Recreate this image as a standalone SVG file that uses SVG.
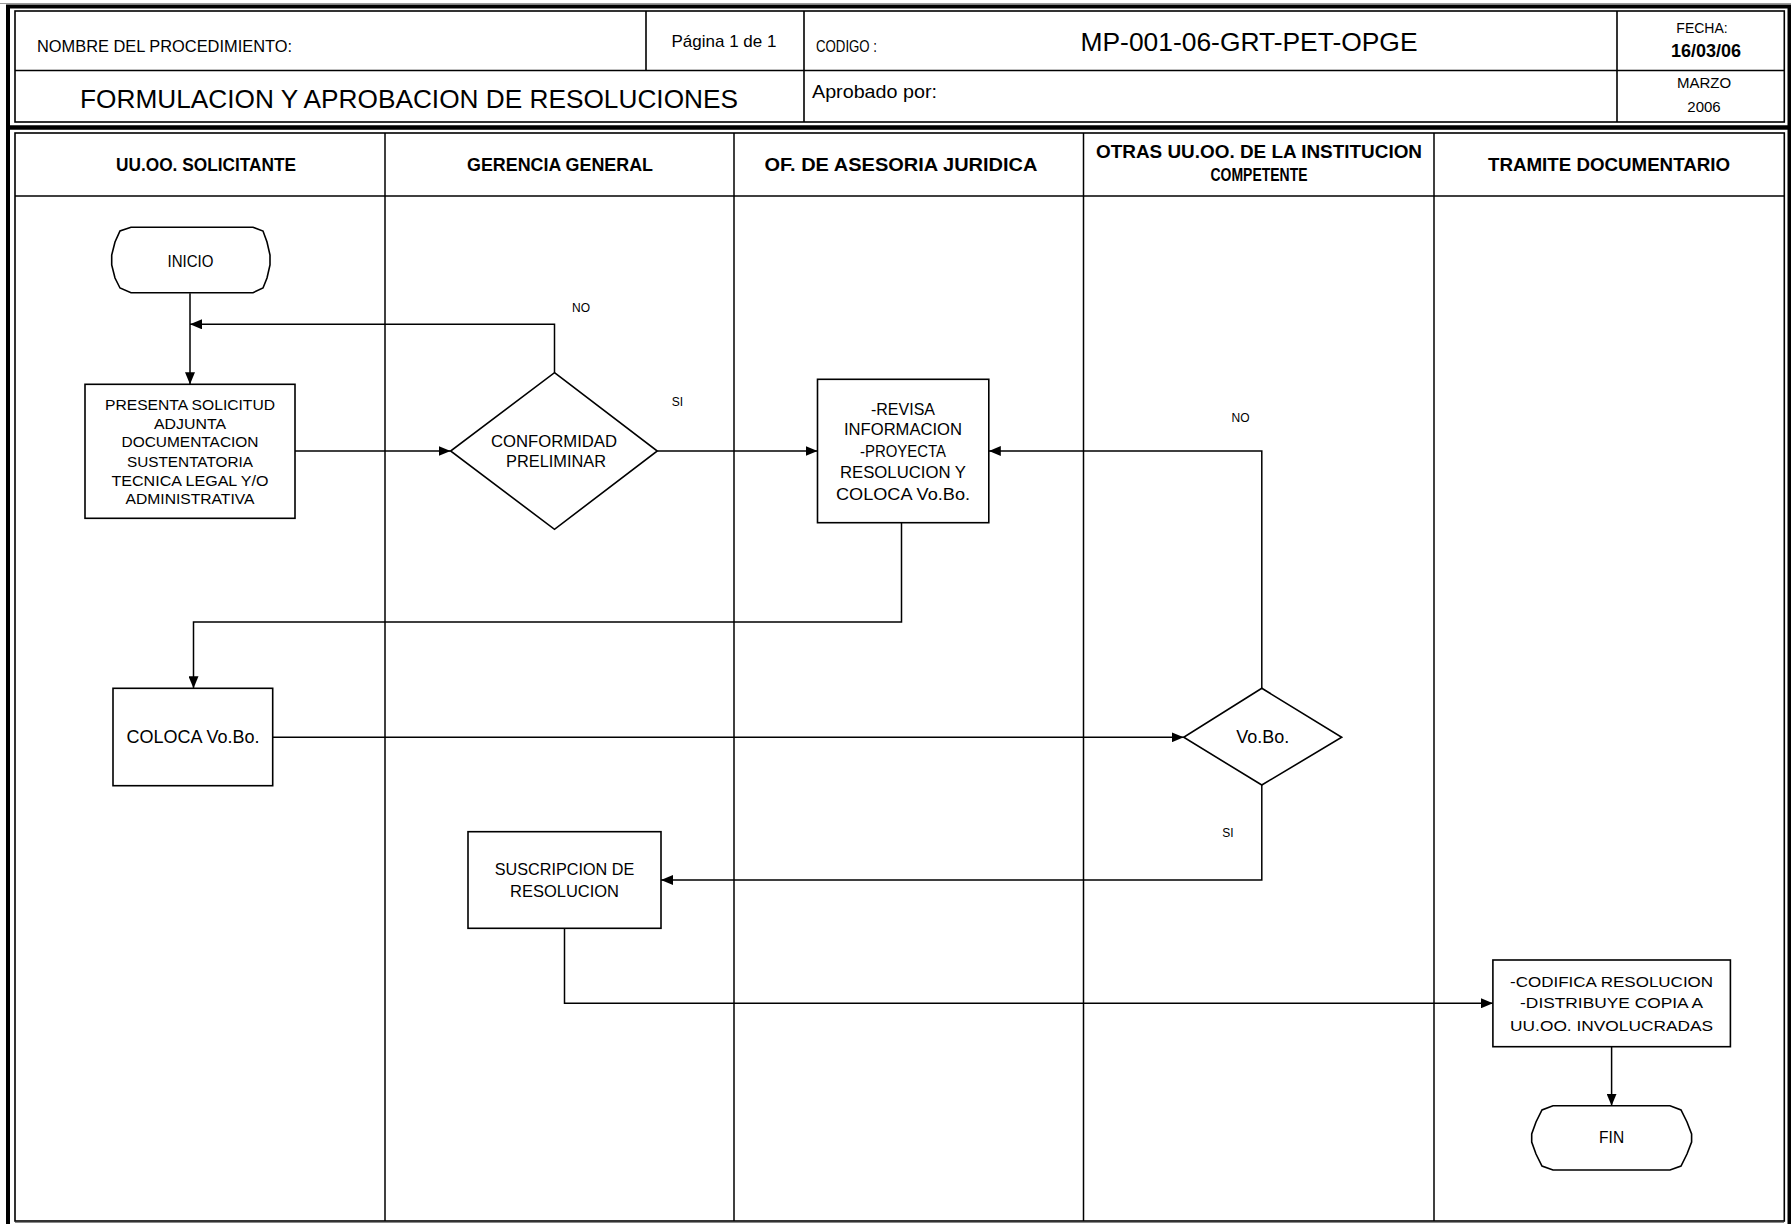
<svg xmlns="http://www.w3.org/2000/svg" width="1791" height="1224" viewBox="0 0 1791 1224">
<style>
  .t{font-family:"Liberation Sans",Arial,sans-serif;fill:#000}
  .b{font-weight:bold}
  .frame{fill:none;stroke:#000;stroke-width:4}
  .thin{fill:none;stroke:#000;stroke-width:1.6}
  .lane{fill:none;stroke:#000;stroke-width:1.5}
  .node{fill:#fff;stroke:#000;stroke-width:1.6}
  .conn{fill:none;stroke:#000;stroke-width:1.5}
  .lbl{font-size:12px;text-anchor:middle}
  .c{text-anchor:middle}
</style>
<defs>
  <marker id="ah" markerUnits="userSpaceOnUse" markerWidth="12" markerHeight="10" refX="12" refY="5" orient="auto">
    <path d="M0,0 L12,5 L0,10 Z" fill="#000"/>
  </marker>
</defs>
<rect width="1791" height="1224" fill="#fff"/>

<!-- outer frame -->
<g id="frame">
  <line x1="0" y1="3.5" x2="1791" y2="3.5" stroke="#999" stroke-width="1"/>
  <path class="frame" d="M8,1226 V6.5 H1789.5 V1226"/>
  <rect class="thin" x="15" y="11" width="1769.3" height="111"/>
  <line x1="8" y1="127.5" x2="1789.5" y2="127.5" stroke="#000" stroke-width="4.5"/>
  <rect class="thin" x="15" y="133" width="1769.3" height="1088"/>
  <line x1="15" y1="1222.5" x2="1784" y2="1222.5" stroke="#888" stroke-width="1"/>
</g>

<!-- header -->
<g id="header">
  <line class="thin" x1="15" y1="70.5" x2="1784.3" y2="70.5"/>
  <line class="thin" x1="646" y1="11" x2="646" y2="70.5"/>
  <line class="thin" x1="804" y1="11" x2="804" y2="122"/>
  <line class="thin" x1="1617" y1="11" x2="1617" y2="122"/>
  <text class="t" x="37" y="51.5" font-size="16" textLength="255" lengthAdjust="spacingAndGlyphs">NOMBRE DEL PROCEDIMIENTO:</text>
  <text class="t c" x="724" y="47" font-size="17">Página 1 de 1</text>
  <text class="t" x="816" y="52" font-size="16" textLength="61" lengthAdjust="spacingAndGlyphs">CODIGO :</text>
  <text class="t c" x="1249" y="51" font-size="25" textLength="337" lengthAdjust="spacingAndGlyphs">MP-001-06-GRT-PET-OPGE</text>
  <text class="t c" x="1702" y="33" font-size="14">FECHA:</text>
  <text class="t c b" x="1706" y="56.5" font-size="18">16/03/06</text>
  <text class="t" x="80" y="107.5" font-size="26" textLength="658" lengthAdjust="spacingAndGlyphs">FORMULACION Y APROBACION DE RESOLUCIONES</text>
  <text class="t" x="812" y="97.5" font-size="17.5" textLength="125" lengthAdjust="spacingAndGlyphs">Aprobado por:</text>
  <text class="t c" x="1704" y="88" font-size="15">MARZO</text>
  <text class="t c" x="1704" y="111.5" font-size="15">2006</text>
</g>

<!-- swimlanes -->
<g id="lanes">
  <line class="thin" x1="15" y1="196" x2="1784.3" y2="196"/>
  <line class="lane" x1="385" y1="133" x2="385" y2="1221"/>
  <line class="lane" x1="734" y1="133" x2="734" y2="1221"/>
  <line class="lane" x1="1083.5" y1="133" x2="1083.5" y2="1221"/>
  <line class="lane" x1="1434" y1="133" x2="1434" y2="1221"/>
  <text class="t b c" x="206" y="170.5" font-size="17.5" textLength="180" lengthAdjust="spacingAndGlyphs">UU.OO. SOLICITANTE</text>
  <text class="t b c" x="560" y="170.5" font-size="17.5" textLength="186" lengthAdjust="spacingAndGlyphs">GERENCIA GENERAL</text>
  <text class="t b c" x="901" y="170.5" font-size="17.5" textLength="273" lengthAdjust="spacingAndGlyphs">OF. DE ASESORIA JURIDICA</text>
  <text class="t b c" x="1259" y="158" font-size="17.5" textLength="326" lengthAdjust="spacingAndGlyphs">OTRAS UU.OO. DE LA INSTITUCION</text>
  <text class="t b c" x="1259" y="181" font-size="17.5" textLength="97" lengthAdjust="spacingAndGlyphs">COMPETENTE</text>
  <text class="t b c" x="1609" y="170.5" font-size="17.5" textLength="242" lengthAdjust="spacingAndGlyphs">TRAMITE DOCUMENTARIO</text>
</g>

<!-- connectors -->
<g id="connectors">
  <path class="conn" d="M190,293.3 V384.3" marker-end="url(#ah)"/>
  <path class="conn" d="M554.5,372.7 V324.3 H190" marker-end="url(#ah)"/>
  <path class="conn" d="M295,451 H450.6" marker-end="url(#ah)"/>
  <path class="conn" d="M657.3,451 H817.5" marker-end="url(#ah)"/>
  <path class="conn" d="M1261.8,688.3 V451 H988.8" marker-end="url(#ah)"/>
  <path class="conn" d="M901.5,522.7 V622 H193.5 V688.3" marker-end="url(#ah)"/>
  <path class="conn" d="M272.7,737.3 H1183.7" marker-end="url(#ah)"/>
  <path class="conn" d="M1261.8,785 V880 H661" marker-end="url(#ah)"/>
  <path class="conn" d="M564.5,928.3 V1003.3 H1492.9" marker-end="url(#ah)"/>
  <path class="conn" d="M1611.6,1046.7 V1105.7" marker-end="url(#ah)"/>
  <text class="t lbl" x="581" y="311.7">NO</text>
  <text class="t lbl" x="677.5" y="406">SI</text>
  <text class="t lbl" x="1240.6" y="422">NO</text>
  <text class="t lbl" x="1228" y="837.3">SI</text>
</g>

<!-- nodes -->
<g id="inicio">
  <path class="node" d="M131,227.3 H253 L263,231 L267,242 L270,255 V265 L267,278 L263,288 L253,292.7 H131 L120,288 L115,278 L111.7,265 V255 L115,242 L120,231 Z"/>
  <text class="t c" x="190.5" y="266.5" font-size="16.5" textLength="46" lengthAdjust="spacingAndGlyphs">INICIO</text>
</g>

<g id="presenta">
  <rect class="node" x="85" y="384.3" width="210" height="134"/>
  <text class="t c" x="190" y="410" font-size="14.5" textLength="170" lengthAdjust="spacingAndGlyphs">PRESENTA SOLICITUD</text>
  <text class="t c" x="190" y="428.5" font-size="14.5" textLength="72" lengthAdjust="spacingAndGlyphs">ADJUNTA</text>
  <text class="t c" x="190" y="447" font-size="14.5" textLength="137" lengthAdjust="spacingAndGlyphs">DOCUMENTACION</text>
  <text class="t c" x="190" y="466.5" font-size="14.5" textLength="126" lengthAdjust="spacingAndGlyphs">SUSTENTATORIA</text>
  <text class="t c" x="190" y="486" font-size="14.5" textLength="157" lengthAdjust="spacingAndGlyphs">TECNICA LEGAL Y/O</text>
  <text class="t c" x="190" y="503.5" font-size="14.5" textLength="129" lengthAdjust="spacingAndGlyphs">ADMINISTRATIVA</text>
</g>

<g id="conformidad">
  <polygon class="node" points="554.5,372.7 657.3,451 554.5,529.3 450.6,451"/>
  <text class="t c" x="554" y="446.7" font-size="16.5" textLength="126" lengthAdjust="spacingAndGlyphs">CONFORMIDAD</text>
  <text class="t c" x="556" y="466.7" font-size="16.5" textLength="100" lengthAdjust="spacingAndGlyphs">PRELIMINAR</text>
</g>

<g id="revisa">
  <rect class="node" x="817.5" y="379.3" width="171.3" height="143.4"/>
  <text class="t c" x="903" y="415" font-size="16.5" textLength="64" lengthAdjust="spacingAndGlyphs">-REVISA</text>
  <text class="t c" x="903" y="435" font-size="16.5" textLength="118" lengthAdjust="spacingAndGlyphs">INFORMACION</text>
  <text class="t c" x="903" y="456.7" font-size="16.5" textLength="86" lengthAdjust="spacingAndGlyphs">-PROYECTA</text>
  <text class="t c" x="903" y="478.3" font-size="16.5" textLength="126" lengthAdjust="spacingAndGlyphs">RESOLUCION Y</text>
  <text class="t c" x="903" y="500" font-size="16.5" textLength="134" lengthAdjust="spacingAndGlyphs">COLOCA Vo.Bo.</text>
</g>

<g id="coloca">
  <rect class="node" x="113" y="688.3" width="159.7" height="97.4"/>
  <text class="t c" x="193" y="742.7" font-size="17.5" textLength="133" lengthAdjust="spacingAndGlyphs">COLOCA Vo.Bo.</text>
</g>

<g id="vobo">
  <polygon class="node" points="1261.8,688.3 1341.7,737.3 1261.8,785 1183.7,737.3"/>
  <text class="t c" x="1262.7" y="742.7" font-size="17.5" textLength="53" lengthAdjust="spacingAndGlyphs">Vo.Bo.</text>
</g>

<g id="suscripcion">
  <rect class="node" x="468" y="831.7" width="193" height="96.6"/>
  <text class="t c" x="564.5" y="875" font-size="16.5" textLength="139.5" lengthAdjust="spacingAndGlyphs">SUSCRIPCION DE</text>
  <text class="t c" x="564.5" y="897.3" font-size="16.5" textLength="109" lengthAdjust="spacingAndGlyphs">RESOLUCION</text>
</g>

<g id="codifica">
  <rect class="node" x="1492.9" y="960" width="237.5" height="86.7"/>
  <text class="t c" x="1611.6" y="987.3" font-size="15" textLength="203" lengthAdjust="spacingAndGlyphs">-CODIFICA RESOLUCION</text>
  <text class="t c" x="1611.6" y="1008.3" font-size="15" textLength="183" lengthAdjust="spacingAndGlyphs">-DISTRIBUYE COPIA A</text>
  <text class="t c" x="1611.6" y="1030.7" font-size="15" textLength="203" lengthAdjust="spacingAndGlyphs">UU.OO. INVOLUCRADAS</text>
</g>

<g id="fin">
  <path class="node" d="M1553,1105.7 H1670 L1681,1110 L1687,1122 L1691.6,1134 V1142 L1687,1154 L1681,1166 L1670,1170 H1553 L1542,1166 L1536,1154 L1531.7,1142 V1134 L1536,1122 L1542,1110 Z"/>
  <text class="t c" x="1611.6" y="1143.3" font-size="16" textLength="25" lengthAdjust="spacingAndGlyphs">FIN</text>
</g>
</svg>
